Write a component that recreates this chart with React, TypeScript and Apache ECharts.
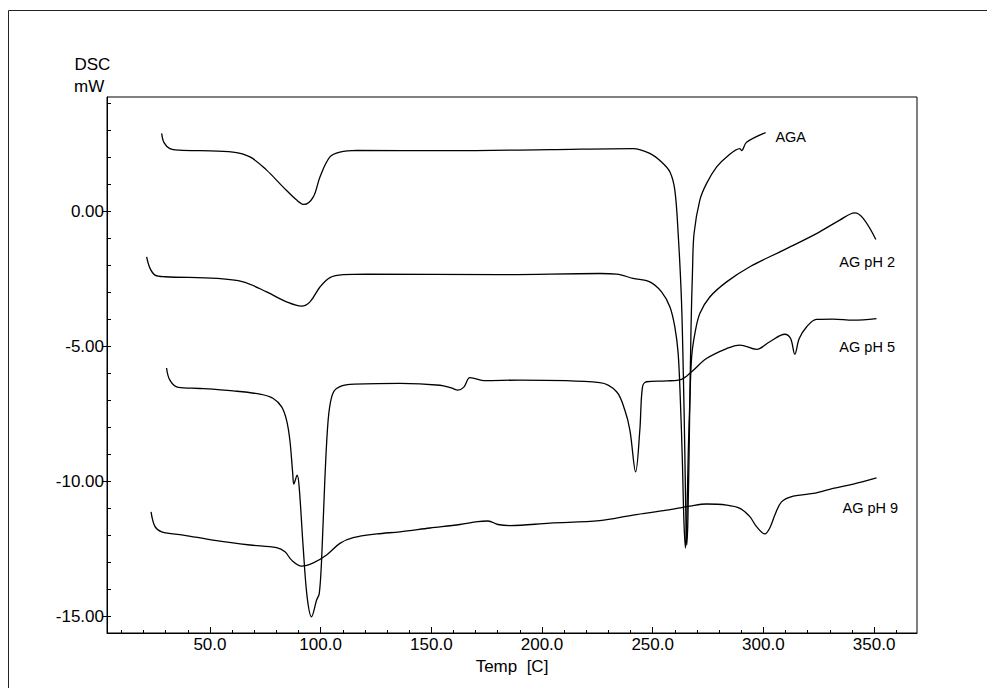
import React, { useEffect, useRef } from "react";
import * as echarts from "echarts";

// ---- data (Temp [C], DSC [mW]) ----
const agaData: [number, number][] = [
  [28.2, 2.9], [29.2, 2.57], [31.9, 2.34], [36.4, 2.28], [45.5, 2.26], [60.4, 2.21],
  [68.1, 2.03], [75.6, 1.54], [83.0, 0.92], [89.2, 0.43], [92.5, 0.27], [96.7, 0.55],
  [99.7, 1.29], [104.2, 2.03], [108.7, 2.21], [116.3, 2.27], [158.4, 2.26], [203.6, 2.3],
  [241.1, 2.34], [248.7, 2.16], [254.0, 1.84], [257.8, 1.47], [260.0, 0.8], [261.5, -0.8],
  [263.0, -3.28], [263.9, -6.24], [264.5, -8.83], [265.1, -11.8], [265.4, -12.35],
  [265.9, -11.43], [266.6, -8.09], [267.3, -4.39], [268.0, -2.17], [268.7, -0.8],
  [271.3, 0.43], [274.3, 1.04], [278.9, 1.66], [283.4, 2.03], [289.4, 2.34], [290.2, 2.26],
  [292.4, 2.57], [301.0, 2.93],
];

const ph2Data: [number, number][] = [
  [21.4, -1.67], [22.9, -2.09], [25.2, -2.35], [29.7, -2.41], [53.0, -2.47], [65.0, -2.6],
  [75.6, -2.97], [84.6, -3.34], [91.4, -3.5], [95.2, -3.34], [99.7, -2.79], [104.2, -2.44],
  [110.2, -2.33], [120.8, -2.31], [181.0, -2.33], [226.1, -2.29], [233.7, -2.31],
  [241.1, -2.47], [248.7, -2.6], [254.0, -2.97], [257.8, -3.53], [260.0, -4.27],
  [261.5, -5.24], [262.5, -6.98], [263.4, -9.2], [264.1, -11.43], [264.8, -12.46],
  [265.4, -11.43], [266.1, -8.83], [266.8, -6.98], [267.6, -5.38], [269.1, -4.5],
  [271.3, -3.77], [275.8, -3.16], [283.4, -2.6], [293.9, -2.04], [308.9, -1.43],
  [324.0, -0.81], [334.5, -0.31], [341.3, -0.04], [345.1, -0.25], [350.8, -1.03],
];

const ph5Data: [number, number][] = [
  [30.4, -5.79], [31.9, -6.24], [35.7, -6.51], [45.5, -6.55], [60.5, -6.64], [72.6, -6.76],
  [78.6, -6.92], [82.4, -7.23], [84.6, -7.72], [86.1, -8.46], [87.4, -9.7], [87.9, -10.09],
  [89.4, -9.76], [90.3, -10.19], [92.1, -12.41], [93.9, -14.27], [95.9, -15.01],
  [98.2, -14.39], [99.4, -14.14], [100.5, -12.79], [101.9, -9.94], [103.4, -7.72],
  [105.0, -6.86], [107.2, -6.55], [113.2, -6.4], [135.8, -6.36], [153.9, -6.43],
  [159.3, -6.54], [162.0, -6.61], [164.7, -6.5], [167.4, -6.15], [170.1, -6.19],
  [173.8, -6.26], [190.0, -6.24], [226.1, -6.33], [233.7, -6.67], [237.4, -7.35],
  [239.7, -8.09], [242.3, -9.64], [244.2, -8.09], [245.4, -6.49], [247.2, -6.3],
  [256.3, -6.27], [263.0, -6.21], [267.6, -5.93], [274.3, -5.44], [283.4, -5.07],
  [289.4, -4.94], [296.9, -5.1], [302.9, -4.82], [309.7, -4.54], [312.3, -4.7],
  [314.2, -5.28], [316.2, -4.7], [319.5, -4.27], [324.0, -3.99], [331.5, -3.98],
  [340.6, -4.02], [351.1, -3.96],
];

const ph9Data: [number, number][] = [
  [23.4, -11.12], [25.2, -11.67], [28.2, -11.86], [37.9, -11.98], [53.0, -12.19],
  [68.1, -12.35], [80.1, -12.45], [83.9, -12.6], [86.9, -12.91], [91.4, -13.13],
  [96.7, -13.01], [102.7, -12.72], [108.7, -12.29], [114.7, -12.08], [125.3, -11.94],
  [135.8, -11.86], [149.4, -11.72], [162.9, -11.59], [171.0, -11.48], [175.6, -11.46],
  [180.1, -11.59], [185.5, -11.63], [203.6, -11.54], [226.1, -11.45], [241.1, -11.24],
  [256.3, -11.06], [266.8, -10.91], [274.3, -10.83], [283.4, -10.87], [289.4, -10.99],
  [293.9, -11.3], [296.9, -11.67], [300.7, -11.94], [302.9, -11.72], [305.2, -11.24],
  [308.2, -10.75], [313.5, -10.54], [322.5, -10.44], [331.5, -10.25], [340.6, -10.09],
  [351.1, -9.86],
];

const seriesNames = ["AGA", "AG pH 2", "AG pH 5", "AG pH 9"];
const seriesData = [agaData, ph2Data, ph5Data, ph9Data];
// label anchor (Temp, DSC) for each curve name
const labelAnchors: [number, number][] = [
  [305.2, 2.75], [334.1, -1.88], [334.1, -5.03], [335.5, -10.99],
];

const X_MIN = 3.5;
const X_MAX = 369.4;
const Y_MIN = -15.61;
const Y_MAX = 4.25;
const xMajorTicks = [50, 100, 150, 200, 250, 300, 350];
const xMinorTicks = [10, 20, 30, 40, 50, 60, 70, 80, 90, 100, 110, 120, 130, 140, 150, 160, 170, 180,
  190, 200, 210, 220, 230, 240, 250, 260, 270, 280, 290, 300, 310, 320, 330, 340, 350, 360];
const yMajorTicks = [-15, -10, -5, 0];
const yMinorTicks = [-15, -14, -13, -12, -11, -10, -9, -8, -7, -6, -5, -4, -3, -2, -1, 0, 1, 2, 3, 4];

const FONT = 'Arial, "Liberation Sans", sans-serif';

export default function App() {
  const ref = useRef<HTMLDivElement>(null);
  useEffect(() => {
    if (!ref.current) return;
    const chart = echarts.init(ref.current, undefined, { renderer: "svg" });
    const axisLine = { show: true, onZero: false, lineStyle: { color: "#000", width: 1 } };
    const hiddenLine = { show: false, onZero: false };
    chart.setOption({
      animation: false,
      backgroundColor: "#fff",
      grid: {
        left: 107, top: 97, right: 70, bottom: 55,
        show: true, borderColor: "#000", borderWidth: 1, backgroundColor: "transparent",
      },
      xAxis: [
        {
          type: "value", min: X_MIN, max: X_MAX, position: "bottom",
          axisLine,
          splitLine: { show: false },
          axisTick: { show: true, inside: true, length: 3, customValues: xMinorTicks, lineStyle: { color: "#000" } },
          axisLabel: {
            show: true, customValues: xMajorTicks, margin: 3, color: "#000",
            fontFamily: FONT, fontSize: 17,
            formatter: (v: number) => v.toFixed(1),
          },
          name: "Temp  [C]", nameLocation: "middle", nameGap: 23,
          nameTextStyle: { color: "#000", fontFamily: FONT, fontSize: 17 },
        },
        {
          type: "value", min: X_MIN, max: X_MAX, position: "bottom",
          axisLine: hiddenLine,
          splitLine: { show: false },
          axisTick: { show: true, inside: true, length: 6, customValues: xMajorTicks, lineStyle: { color: "#000" } },
          axisLabel: { show: false },
        },
      ],
      yAxis: [
        {
          type: "value", min: Y_MIN, max: Y_MAX, position: "left",
          axisLine,
          splitLine: { show: false },
          axisTick: { show: true, inside: true, length: 4, customValues: yMinorTicks, lineStyle: { color: "#000" } },
          axisLabel: {
            show: true, customValues: yMajorTicks, margin: 3, color: "#000",
            fontFamily: FONT, fontSize: 17,
            formatter: (v: number) => v.toFixed(2),
          },
        },
        {
          type: "value", min: Y_MIN, max: Y_MAX, position: "left",
          axisLine: hiddenLine,
          splitLine: { show: false },
          axisTick: { show: true, inside: false, length: 4, customValues: yMajorTicks, lineStyle: { color: "#000" } },
          axisLabel: { show: false },
        },
      ],
      graphic: [
        {
          type: "rect", silent: true, z: 100,
          shape: { x: 8.5, y: 10.5, width: 1200, height: 1000 },
          style: { fill: "none", stroke: "#222", lineWidth: 1 },
        },
        {
          type: "text", left: 74.5, top: 56, silent: true,
          style: { text: "DSC", fill: "#000", font: `17px ${FONT}` },
        },
        {
          type: "text", left: 74, top: 78, silent: true,
          style: { text: "mW", fill: "#000", font: `17px ${FONT}` },
        },
      ],
      series: seriesData.map((d, i) => ({
        type: "line",
        name: seriesNames[i],
        data: d,
        xAxisIndex: 0,
        yAxisIndex: 0,
        showSymbol: false,
        symbol: "none",
        smooth: 0.35,
        lineStyle: { color: "#000", width: 1.3 },
        markPoint: {
          symbol: "rect",
          symbolSize: 1,
          itemStyle: { color: "rgba(0,0,0,0)" },
          label: {
            show: true, position: "right", distance: 0, color: "#000",
            fontFamily: FONT, fontSize: 14.5,
            formatter: () => seriesNames[i],
          },
          data: [{ coord: labelAnchors[i] }],
        },
      })),
    });
    return () => chart.dispose();
  }, []);
  return (
    <div
      ref={ref}
      style={{ position: "absolute", left: 0, top: 0, width: 987, height: 688, background: "#fff" }}
    />
  );
}
